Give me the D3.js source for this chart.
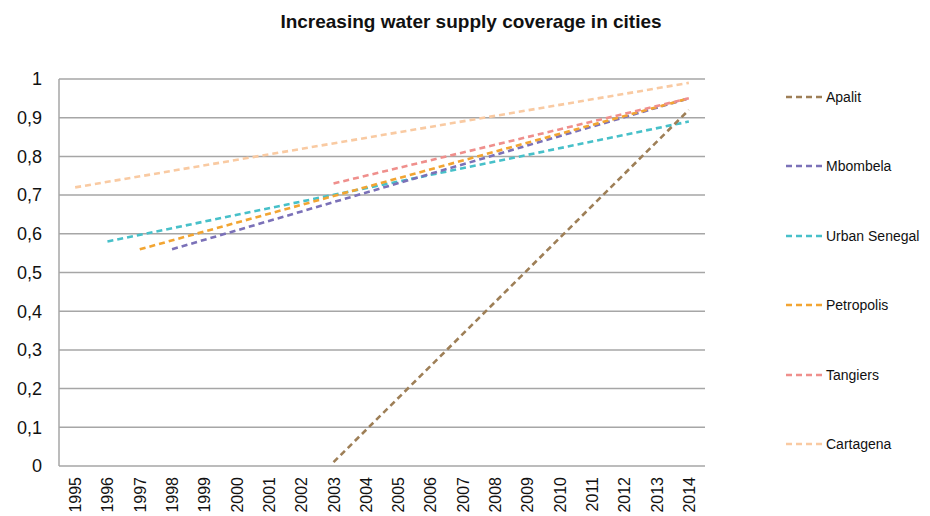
<!DOCTYPE html>
<html>
<head>
<meta charset="utf-8">
<script src="https://cdn.jsdelivr.net/npm/d3@7"></script>
<style>
  body { margin: 0; background: #fff; }
  svg { display: block; font-family: "Liberation Sans", Arial, sans-serif; }
</style>
</head>
<body>
<svg id="chart" width="930" height="516"></svg>
<script>
// Years on the category axis
const years = ["1995","1996","1997","1998","1999","2000","2001","2002","2003","2004",
               "2005","2006","2007","2008","2009","2010","2011","2012","2013","2014"];

// Y axis ticks
const yTicks = [0, 0.1, 0.2, 0.3, 0.4, 0.5, 0.6, 0.7, 0.8, 0.9, 1];

// City names and colours (legend order)
const cities = ["Apalit", "Mbombela", "Urban Senegal", "Petropolis", "Tangiers", "Cartagena"];
const colors = ["#9e7f57", "#7b71b8", "#47c0c9", "#f2a532", "#ef8f8c", "#f9caa2"];

// Coverage: first and last observed year for each city
const startYears = ["2003", "1998", "1996", "1997", "2003", "1995"];
const startValues = [0.01, 0.56, 0.58, 0.56, 0.73, 0.72];
const endYears = ["2014", "2014", "2014", "2014", "2014", "2014"];
const endValues = [0.92, 0.95, 0.89, 0.95, 0.95, 0.99];

const svg = d3.select("#chart");
const margin = { left: 59, right: 705, top: 79, bottom: 466 };

const x = d3.scaleBand().domain(years).range([margin.left, margin.right]);
const y = d3.scaleLinear().domain([0, 1]).range([margin.bottom, margin.top]);
const fmt = v => d3.format(".1~f")(v).replace(".", ",");

// Title
svg.append("text")
  .attr("x", 471).attr("y", 28)
  .attr("text-anchor", "middle")
  .attr("font-size", 19).attr("font-weight", "bold")
  .attr("fill", "#111")
  .text("Increasing water supply coverage in cities");

// Gridlines
svg.append("g").selectAll("line").data(yTicks).join("line")
  .attr("x1", margin.left).attr("x2", margin.right)
  .attr("y1", d => y(d)).attr("y2", d => y(d))
  .attr("stroke", "#a6a6a6").attr("stroke-width", 1.5);

// Left axis line
svg.append("line")
  .attr("x1", margin.left).attr("x2", margin.left)
  .attr("y1", margin.top).attr("y2", margin.bottom)
  .attr("stroke", "#a6a6a6").attr("stroke-width", 1.5);

// Y tick labels
svg.append("g").selectAll("text").data(yTicks).join("text")
  .attr("x", 42).attr("y", d => y(d))
  .attr("dy", "0.35em")
  .attr("text-anchor", "end")
  .attr("font-size", 18).attr("fill", "#111")
  .text(fmt);

// X tick labels, rotated
svg.append("g").selectAll("text").data(years).join("text")
  .attr("transform", d => `translate(${x(d) + x.bandwidth() / 2 + 6},477) rotate(-90)`)
  .attr("text-anchor", "end")
  .attr("font-size", 16).attr("fill", "#111")
  .text(d => d);

// Series lines
const line = d3.line()
  .x(d => x(d[0]) + x.bandwidth() / 2)
  .y(d => y(d[1]));

const series = cities.map((c, i) => ({
  name: c,
  color: colors[i],
  points: [[startYears[i], startValues[i]], [endYears[i], endValues[i]]]
}));

// Draw lightest first, so the heavier colours sit on top
const drawOrder = [5, 2, 0, 1, 3, 4];
svg.append("g").selectAll("path").data(drawOrder.map(i => series[i])).join("path")
  .attr("d", d => line(d.points))
  .attr("fill", "none")
  .attr("stroke", d => d.color)
  .attr("stroke-width", 2.6)
  .attr("stroke-dasharray", "6,4");

// Legend
const legendY = [97, 166, 236, 305, 375, 444];
const legend = svg.append("g").selectAll("g").data(series).join("g")
  .attr("transform", (d, i) => `translate(786,${legendY[i]})`);
legend.append("line")
  .attr("x1", 0).attr("x2", 37).attr("y1", 0).attr("y2", 0)
  .attr("stroke", d => d.color).attr("stroke-width", 2.6)
  .attr("stroke-dasharray", "6,4");
legend.append("text")
  .attr("x", 40).attr("dy", "0.35em")
  .attr("font-size", 14).attr("fill", "#111")
  .text(d => d.name);
</script>
</body>
</html>
